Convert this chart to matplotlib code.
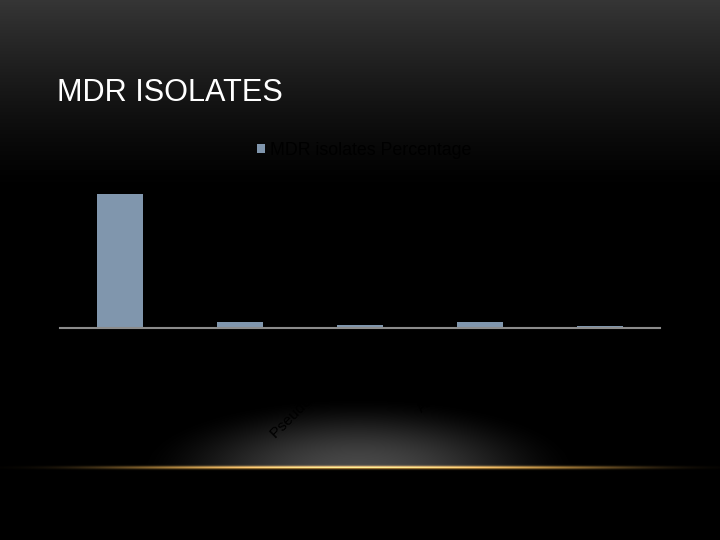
import numpy as np
import matplotlib
matplotlib.use("Agg")
import matplotlib.pyplot as plt

plt.rcParams['font.family'] = ['Liberation Sans', 'DejaVu Sans']

categories = ["E. coli", "Klebsiella", "Pseudomonas spp.", "Acinetobacter", "Proteus"]
mdr_pct = [67, 3, 1.5, 3, 1]
series_name = "MDR isolates Percentage"
title = "MDR ISOLATES"

W, H = 720, 540
fig = plt.figure(figsize=(7.2, 5.4), dpi=100)

# slide background: dark top gradient + glow with orange line near bottom
yy = np.arange(H)[:, None].astype(float)
xx = np.arange(W)[None, :].astype(float)
top = 0.21 * np.clip(1 - yy / 190, 0, 1) ** 1.3
d = ((xx - 358) / 225) ** 2 + ((yy - 468) / 72) ** 2
glow = 0.28 * np.clip(1 - d, 0, 1) ** 2.0 * (yy <= 467)
base = top + glow
img = np.repeat(base[:, :, None], 3, axis=2)
line = np.exp(-((yy - 467) / 1.6) ** 2) * np.exp(-((xx - 365) / 255) ** 4)
orange = np.array([0.88, 0.66, 0.30])
img = img + line[:, :, None] * orange[None, None, :]
img = np.clip(img, 0, 1)

bg = fig.add_axes([0, 0, 1, 1])
bg.imshow(img, extent=[0, W, H, 0], aspect='auto')
bg.set_xlim(0, W)
bg.set_ylim(H, 0)
bg.axis('off')

fig.text(57 / W, 1 - 101 / H, title, color='white', fontsize=22.1,
         ha='left', va='baseline')

ax = fig.add_axes([60 / W, 1 - 328 / H, 600 / W, 148 / H])
ax.patch.set_alpha(0)
x = np.arange(len(categories))
ax.bar(x, mdr_pct, width=0.39, color='#8096ad', label=series_name, zorder=2)
ax.set_xlim(-0.5, len(categories) - 0.5)
ax.set_ylim(0, 74)
ax.set_xticks(x)
ax.set_xticklabels(categories, rotation=45, ha='right', rotation_mode='anchor',
                   color='black', fontsize=11)
ax.tick_params(axis='x', length=0, pad=8)
ax.set_yticks([])
for s in ['top', 'right', 'left']:
    ax.spines[s].set_visible(False)
ax.spines['bottom'].set_color('#8c8c8c')
ax.spines['bottom'].set_linewidth(1.5)

leg = ax.legend(loc='upper left', bbox_to_anchor=(248 / W, 1 - 133 / H),
                bbox_transform=fig.transFigure, frameon=False, fontsize=12.8,
                handlelength=0.45, handleheight=0.45, handletextpad=0.3,
                borderpad=0, labelcolor='black')

fig.savefig("out.png", dpi=100)
